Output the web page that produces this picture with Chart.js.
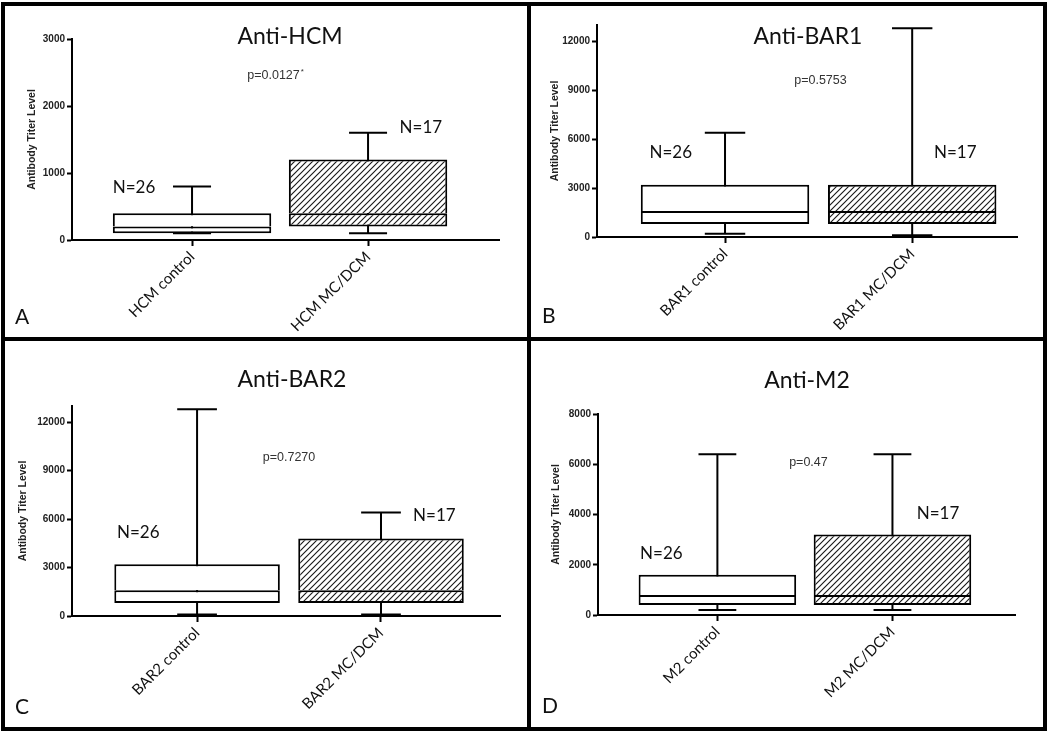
<!DOCTYPE html>
<html><head><meta charset="utf-8">
<script src="https://cdn.jsdelivr.net/npm/chart.js@4.4.0/dist/chart.umd.min.js"></script>
<style>
html,body{margin:0;padding:0;background:#fff;}
#wrap{position:relative;width:1050px;height:733px;overflow:hidden;background:#fff;}
.b{position:absolute;background:#000;z-index:5;}
.p{position:absolute;}
canvas{display:block;}
</style></head><body>
<div id="wrap">
 <div class="p" style="left:6px;top:6px;"><canvas id="cA" width="521" height="331"></canvas></div>
 <div class="p" style="left:531px;top:6px;"><canvas id="cB" width="512" height="331"></canvas></div>
 <div class="p" style="left:6px;top:341px;"><canvas id="cC" width="521" height="386"></canvas></div>
 <div class="p" style="left:531px;top:341px;"><canvas id="cD" width="512" height="386"></canvas></div>
 <div class="b" style="left:1px;top:2px;width:1046px;height:4px"></div>
 <div class="b" style="left:1px;top:727px;width:1046px;height:4px"></div>
 <div class="b" style="left:1px;top:2px;width:4px;height:729px"></div>
 <div class="b" style="left:1043px;top:2px;width:4px;height:729px"></div>
 <div class="b" style="left:527px;top:2px;width:4px;height:729px"></div>
 <div class="b" style="left:1px;top:337px;width:1046px;height:4px"></div>
</div>
<script>
// ---------- data ----------
const hcmCategories = ['HCM control', 'HCM MC/DCM'];
const hcmMin    = [100, 100];
const hcmQ1     = [100, 200];
const hcmMedian = [200, 400];
const hcmQ3     = [400, 1200];
const hcmMax    = [800, 1600];
const hcmTicks  = [0, 1000, 2000, 3000];

const bar1Categories = ['BAR1 control', 'BAR1 MC/DCM'];
const bar1Min    = [200, 100];
const bar1Q1     = [800, 800];
const bar1Median = [1600, 1600];
const bar1Q3     = [3200, 3200];
const bar1Max    = [6400, 12800];
const bar1Ticks  = [0, 3000, 6000, 9000, 12000];

const bar2Categories = ['BAR2 control', 'BAR2 MC/DCM'];
const bar2Min    = [100, 100];
const bar2Q1     = [800, 800];
const bar2Median = [1600, 1600];
const bar2Q3     = [3200, 4800];
const bar2Max    = [12800, 6400];
const bar2Ticks  = [0, 3000, 6000, 9000, 12000];

const m2Categories = ['M2 control', 'M2 MC/DCM'];
const m2Min    = [200, 200];
const m2Q1     = [400, 400];
const m2Median = [800, 800];
const m2Q3     = [1600, 3200];
const m2Max    = [6400, 6400];
const m2Ticks  = [0, 2000, 4000, 6000, 8000];

const groupN = ['N=26', 'N=17'];

// ---------- helpers ----------
function makeHatch(){
  const s = 6;
  const c = document.createElement('canvas'); c.width = s; c.height = s;
  const g = c.getContext('2d');
  g.fillStyle = '#fff'; g.fillRect(0,0,s,s);
  g.strokeStyle = '#1a1a1a'; g.lineWidth = 1.15;
  g.beginPath();
  g.moveTo(0,s); g.lineTo(s,0);
  g.moveTo(-1,1); g.lineTo(1,-1);
  g.moveTo(s-1,s+1); g.lineTo(s+1,s-1);
  g.stroke();
  return document.createElement('canvas').getContext('2d').createPattern(c,'repeat');
}
const hatch = makeHatch();

const boxPlugin = {
  id: 'boxAnnot',
  beforeDatasetsDraw(chart, args, o){
    const ctx = chart.ctx, xs = chart.scales.x, ys = chart.scales.y;
    const meta = chart.getDatasetMeta(0);
    ctx.save();
    ctx.strokeStyle = '#000'; ctx.lineWidth = 2;
    o.mins.forEach((mn, i) => {
      const cx = xs.getPixelForValue(i + 1);
      const w = meta.data[i].width * 0.24;
      const y0 = ys.getPixelForValue(mn), y1 = ys.getPixelForValue(o.maxs[i]);
      ctx.beginPath();
      ctx.moveTo(cx, y0); ctx.lineTo(cx, y1);
      ctx.moveTo(cx - w/2, y0); ctx.lineTo(cx + w/2, y0);
      ctx.moveTo(cx - w/2, y1); ctx.lineTo(cx + w/2, y1);
      ctx.stroke();
    });
    ctx.restore();
  },
  afterDraw(chart, args, o){
    const ctx = chart.ctx, xs = chart.scales.x, ys = chart.scales.y;
    ctx.save();
    ctx.fillStyle = '#111';
    ctx.textAlign = 'center'; ctx.textBaseline = 'middle';
    ctx.font = '23px Lato';
    ctx.fillText(o.title, o.titlePos[0], o.titlePos[1]);
    ctx.textAlign = 'left'; ctx.textBaseline = 'alphabetic';
    ctx.font = '21px Lato';
    ctx.fillText(o.letter, o.letterPos[0], o.letterPos[1]);
    ctx.textAlign = 'center'; ctx.textBaseline = 'middle';
    ctx.font = '17px Lato';
    o.nPos.forEach((p, i) => {
      ctx.fillText(groupN[i], xs.getPixelForValue(p[0]), ys.getPixelForValue(p[1]));
    });
    ctx.fillStyle = '#333';
    ctx.font = '12.5px "Liberation Sans"';
    const px = xs.getPixelForValue(o.pPos[0]), py = ys.getPixelForValue(o.pPos[1]);
    if (o.pStar) {
      const w = ctx.measureText(o.pText).width;
      ctx.textAlign = 'left';
      ctx.fillText(o.pText, px - w/2 - 3, py);
      ctx.font = '8px "Liberation Sans"';
      ctx.fillText('*', px + w/2 - 2, py - 4);
    } else {
      ctx.fillText(o.pText, px, py);
    }
    ctx.restore();
  }
};

function makeChart(id, d){
  const canvas = document.getElementById(id);
  const W = canvas.width, H = canvas.height;
  const fills = ['#ffffff', hatch];
  const lower = d.q1.map((v, i) => ({x: i + 1, y: [v, d.med[i]]}));
  const upper = d.q3.map((v, i) => ({x: i + 1, y: [d.med[i], v]}));
  const ds = (data, bw) => ({
    data, backgroundColor: fills, borderColor: '#000', borderWidth: bw,
    borderSkipped: false, grouped: false, categoryPercentage: 1, barPercentage: 0.9
  });
  new Chart(canvas, {
    type: 'bar',
    data: { datasets: [
      ds(lower, {left: 2, right: 2, bottom: 2, top: 2}),
      ds(upper, {left: 2, right: 2, bottom: 0, top: 2})
    ] },
    plugins: [boxPlugin],
    options: {
      responsive: false, animation: false,
      layout: { padding: { left: 0, top: d.area.top, right: W - d.area.right, bottom: 0 } },
      plugins: {
        legend: { display: false }, tooltip: { enabled: false },
        boxAnnot: {
          mins: d.min, maxs: d.max, title: d.title, titlePos: d.titlePos,
          letter: d.letter, letterPos: d.letterPos, nPos: d.nPos,
          pText: d.pText, pStar: d.pStar, pPos: d.pPos
        }
      },
      scales: {
        x: {
          type: 'linear', min: d.xRange[0], max: d.xRange[1], offset: false,
          afterBuildTicks: s => { s.ticks = [{value: 1}, {value: 2}]; },
          afterFit: s => { s.height = H - d.area.bottom; },
          border: { display: true, color: '#000', width: 2 },
          grid: { display: true, offset: false, drawOnChartArea: false, drawTicks: true, tickLength: 6, tickWidth: 2, tickColor: '#000' },
          ticks: {
            autoSkip: false, minRotation: 45, maxRotation: 45, padding: 2,
            color: '#111', font: { family: 'Lato', size: 15 },
            callback: (v) => d.cats[Math.round(v) - 1]
          }
        },
        y: {
          type: 'linear', min: 0, max: d.yMax,
          afterBuildTicks: s => { s.ticks = d.yTicks.map(v => ({value: v})); },
          afterFit: s => { s.width = d.area.left; },
          border: { display: true, color: '#000', width: 2 },
          grid: { display: true, drawOnChartArea: false, drawTicks: true, tickLength: 5, tickWidth: 2, tickColor: '#000' },
          ticks: { padding: 2, color: '#222', font: { family: '"Liberation Sans"', size: 10, weight: 'bold' },
                   callback: (v) => String(v) },
          title: {
            display: true, text: 'Antibody Titer Level', color: '#222',
            font: { family: '"Liberation Sans"', size: 10.5, weight: 'bold' },
            padding: { top: d.yTitlePad, bottom: 0 }
          }
        }
      }
    }
  });
}

makeChart('cA', {
  cats: hcmCategories, min: hcmMin, q1: hcmQ1, med: hcmMedian, q3: hcmQ3, max: hcmMax,
  yTicks: hcmTicks, yMax: 3000, xRange: [0.318, 2.744],
  area: { left: 66, right: 493, top: 33, bottom: 234 }, yTitlePad: 20,
  title: 'Anti-HCM', titlePos: [284, 31], letter: 'A', letterPos: [9, 318],
  nPos: [[0.67, 776], [2.30, 1676]], pText: 'p=0.0127', pStar: true, pPos: [1.48, 2452]
});
makeChart('cB', {
  cats: bar1Categories, min: bar1Min, q1: bar1Q1, med: bar1Median, q3: bar1Q3, max: bar1Max,
  yTicks: bar1Ticks, yMax: 13000, xRange: [0.316, 2.56],
  area: { left: 66, right: 486, top: 19, bottom: 231 }, yTitlePad: 18,
  title: 'Anti-BAR1', titlePos: [277, 31], letter: 'B', letterPos: [11, 317],
  nPos: [[0.71, 5178], [2.23, 5178]], pText: 'p=0.5753', pStar: false, pPos: [1.51, 9582]
});
makeChart('cC', {
  cats: bar2Categories, min: bar2Min, q1: bar2Q1, med: bar2Median, q3: bar2Q3, max: bar2Max,
  yTicks: bar2Ticks, yMax: 13000, xRange: [0.32, 2.647],
  area: { left: 66, right: 494, top: 65, bottom: 275 }, yTitlePad: 11,
  title: 'Anti-BAR2', titlePos: [286, 39], letter: 'C', letterPos: [9, 373],
  nPos: [[0.68, 5186], [2.29, 6196]], pText: 'p=0.7270', pStar: false, pPos: [1.50, 9808]
});
makeChart('cD', {
  cats: m2Categories, min: m2Min, q1: m2Q1, med: m2Median, q3: m2Q3, max: m2Max,
  yTicks: m2Ticks, yMax: 8000, xRange: [0.318, 2.70],
  area: { left: 67, right: 484, top: 73, bottom: 274 }, yTitlePad: 19,
  title: 'Anti-M2', titlePos: [276, 40], letter: 'D', letterPos: [11, 372],
  nPos: [[0.68, 2459], [2.26, 4054]], pText: 'p=0.47', pStar: false, pPos: [1.52, 6071]
});
</script>
</body></html>
